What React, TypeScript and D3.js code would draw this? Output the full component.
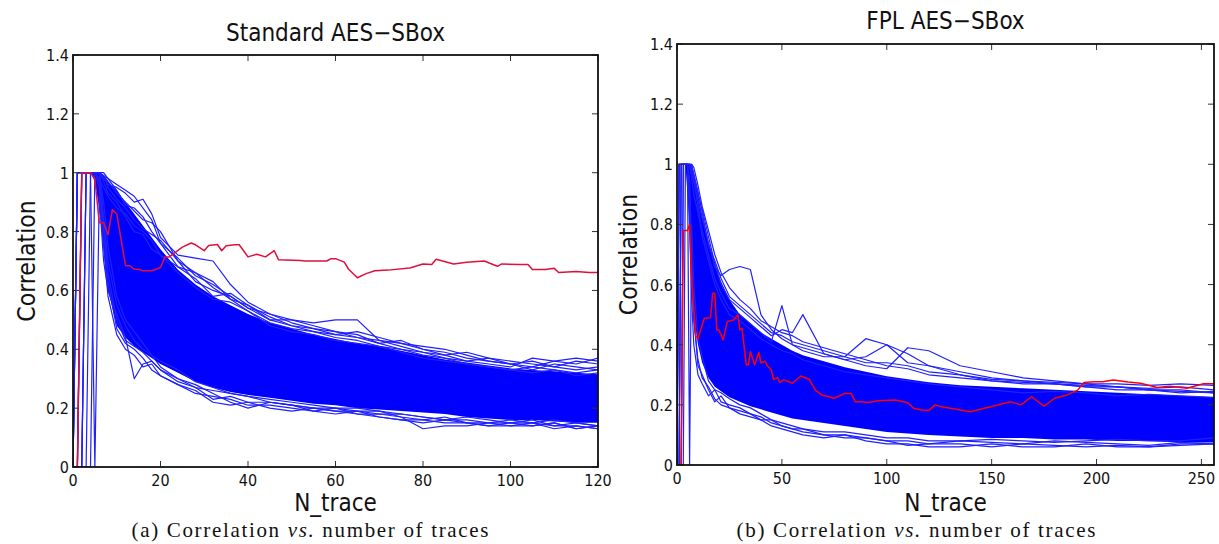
import React from 'react';
import * as d3 from 'd3';

// ---------------- Panel (a): Standard AES-SBox ----------------
const xTicksA = [0, 20, 40, 60, 80, 100, 120];
const yTicks = [0, 0.2, 0.4, 0.6, 0.8, 1, 1.2, 1.4];
const yTickLabels = ['0', '0.2', '0.4', '0.6', '0.8', '1', '1.2', '1.4'];

const xsA = [0, 1, 2, 3, 4, 5, 6, 7, 8, 10, 12, 14, 16, 18, 20, 24, 28, 32, 36, 40, 45, 50, 55, 60, 65, 70, 75, 80, 85, 90, 95, 100, 105, 110, 115, 120];
const blueA1 = [0, 1, 1, 1, 1, 1, 1, 0.98, 0.96, 0.95, 0.93, 0.90, 0.91, 0.86, 0.78, 0.72, 0.71, 0.70, 0.62, 0.56, 0.52, 0.50, 0.49, 0.50, 0.50, 0.43, 0.41, 0.39, 0.38, 0.36, 0.35, 0.34, 0.37, 0.36, 0.37, 0.36];
const blueA2 = [0, 0, 1, 1, 1, 1, 1, 0.99, 0.97, 0.93, 0.90, 0.87, 0.84, 0.83, 0.80, 0.70, 0.63, 0.60, 0.58, 0.54, 0.52, 0.49, 0.47, 0.45, 0.46, 0.44, 0.42, 0.40, 0.39, 0.37, 0.36, 0.35, 0.33, 0.35, 0.34, 0.33];
const blueA3 = [0, 0, 0, 1, 1, 1, 0.98, 0.95, 0.92, 0.88, 0.86, 0.82, 0.80, 0.77, 0.72, 0.68, 0.64, 0.58, 0.59, 0.55, 0.50, 0.48, 0.46, 0.44, 0.43, 0.41, 0.40, 0.38, 0.37, 0.35, 0.34, 0.33, 0.34, 0.36, 0.35, 0.37];
const blueA4 = [0, 0, 0, 0, 1, 1, 1, 0.97, 0.93, 0.90, 0.85, 0.80, 0.79, 0.74, 0.72, 0.66, 0.61, 0.57, 0.56, 0.53, 0.48, 0.46, 0.45, 0.43, 0.42, 0.41, 0.39, 0.37, 0.36, 0.35, 0.34, 0.33, 0.32, 0.33, 0.31, 0.32];
const blueA5 = [0, 1, 1, 1, 1, 0, 0.92, 0.70, 0.60, 0.52, 0.44, 0.30, 0.35, 0.36, 0.33, 0.29, 0.27, 0.26, 0.25, 0.24, 0.23, 0.22, 0.21, 0.20, 0.20, 0.19, 0.18, 0.17, 0.16, 0.17, 0.16, 0.15, 0.15, 0.16, 0.15, 0.14];
const blueA6 = [0, 0, 1, 1, 1, 1, 0.97, 0.80, 0.63, 0.47, 0.42, 0.40, 0.37, 0.33, 0.31, 0.28, 0.26, 0.22, 0.21, 0.22, 0.20, 0.19, 0.20, 0.19, 0.18, 0.18, 0.17, 0.13, 0.14, 0.14, 0.15, 0.16, 0.15, 0.14, 0.14, 0.13];
const blueA7 = [0, 1, 1, 1, 1, 1, 1, 0.85, 0.70, 0.55, 0.48, 0.43, 0.40, 0.38, 0.34, 0.30, 0.28, 0.25, 0.22, 0.20, 0.22, 0.21, 0.19, 0.20, 0.18, 0.17, 0.16, 0.15, 0.16, 0.15, 0.14, 0.15, 0.14, 0.15, 0.13, 0.14];
const blueA8 = [0, 0, 0, 1, 1, 1, 1, 0.90, 0.75, 0.58, 0.50, 0.46, 0.42, 0.38, 0.36, 0.33, 0.29, 0.27, 0.25, 0.24, 0.22, 0.21, 0.20, 0.19, 0.19, 0.18, 0.18, 0.17, 0.16, 0.16, 0.15, 0.15, 0.16, 0.14, 0.15, 0.14];
const blueA9 = [0, 0, 1, 1, 1, 1, 1, 1, 0.98, 0.96, 0.94, 0.92, 0.88, 0.84, 0.76, 0.68, 0.66, 0.61, 0.57, 0.55, 0.51, 0.48, 0.47, 0.46, 0.44, 0.43, 0.42, 0.41, 0.40, 0.38, 0.36, 0.35, 0.36, 0.34, 0.33, 0.34];
const blueA10 = [0, 1, 1, 1, 1, 1, 1, 0.99, 0.98, 0.94, 0.89, 0.88, 0.85, 0.80, 0.76, 0.71, 0.65, 0.62, 0.58, 0.54, 0.50, 0.50, 0.48, 0.46, 0.45, 0.42, 0.43, 0.40, 0.38, 0.39, 0.37, 0.36, 0.35, 0.34, 0.36, 0.35];
const blueA11 = [0, 0, 0, 0, 0, 1, 1, 0.99, 0.95, 0.91, 0.88, 0.84, 0.81, 0.79, 0.77, 0.70, 0.66, 0.63, 0.57, 0.53, 0.49, 0.47, 0.46, 0.45, 0.44, 0.42, 0.40, 0.39, 0.37, 0.36, 0.37, 0.35, 0.34, 0.33, 0.32, 0.33];
const blueA12 = [0, 1, 1, 1, 1, 1, 0.95, 0.75, 0.58, 0.45, 0.40, 0.38, 0.34, 0.35, 0.31, 0.28, 0.25, 0.24, 0.23, 0.21, 0.21, 0.20, 0.19, 0.18, 0.19, 0.17, 0.16, 0.16, 0.15, 0.15, 0.14, 0.14, 0.15, 0.13, 0.14, 0.13];
const blueA13 = [0, 0, 0, 1, 1, 1, 1, 0.83, 0.66, 0.50, 0.43, 0.41, 0.39, 0.36, 0.33, 0.30, 0.27, 0.23, 0.24, 0.22, 0.22, 0.21, 0.20, 0.20, 0.19, 0.19, 0.17, 0.16, 0.17, 0.15, 0.15, 0.14, 0.14, 0.15, 0.13, 0.14];

const coreXsA = [4, 5, 6, 7, 8, 10, 12, 14, 16, 18, 20, 24, 28, 32, 36, 40, 45, 50, 55, 60, 65, 70, 75, 80, 85, 90, 95, 100, 105, 110, 115, 120];
const coreTopA = [1, 1, 1, 0.99, 0.97, 0.94, 0.90, 0.86, 0.82, 0.78, 0.74, 0.67, 0.62, 0.58, 0.55, 0.52, 0.49, 0.47, 0.45, 0.435, 0.42, 0.41, 0.395, 0.38, 0.365, 0.355, 0.345, 0.335, 0.33, 0.325, 0.32, 0.315];
const coreBotA = [1, 0.97, 0.88, 0.74, 0.6, 0.48, 0.44, 0.41, 0.39, 0.37, 0.35, 0.32, 0.29, 0.27, 0.255, 0.245, 0.235, 0.225, 0.215, 0.21, 0.2, 0.195, 0.19, 0.185, 0.18, 0.17, 0.165, 0.16, 0.16, 0.155, 0.15, 0.15];

const redA: [number, number][] = [
  [0, 0], [1, 0], [2, 1], [3, 1], [4, 1], [5, 0.98], [6, 0.83], [7, 0.83], [8, 0.79], [9, 0.875],
  [10, 0.86], [12, 0.684], [13, 0.684], [14, 0.672], [15, 0.672], [16, 0.667], [18, 0.667], [20, 0.678], [21, 0.714], [22, 0.714],
  [25, 0.747], [27, 0.761], [28, 0.755], [30, 0.735], [31, 0.753], [33, 0.756], [34, 0.735], [35, 0.752], [37, 0.755], [38, 0.755],
  [40, 0.714], [42, 0.723], [44, 0.714], [46, 0.735], [47, 0.704], [52, 0.702], [53, 0.70], [58, 0.70], [59, 0.708], [60, 0.708],
  [62, 0.696], [63, 0.672], [65, 0.643], [67, 0.657], [69, 0.667], [72, 0.669], [77, 0.676], [80, 0.69], [82, 0.688], [83, 0.706],
  [87, 0.69], [90, 0.696], [94, 0.70], [97, 0.682], [98, 0.69], [102, 0.688], [104, 0.688], [105, 0.671], [108, 0.671], [110, 0.675],
  [111, 0.661], [115, 0.664], [118, 0.661], [120, 0.661],
];

// ---------------- Panel (b): FPL AES-SBox ----------------
const xTicksB = [0, 50, 100, 150, 200, 250];

const xsB = [0, 1, 2, 3, 4, 5, 6, 7, 8, 10, 12, 15, 18, 21, 25, 30, 35, 40, 45, 50, 55, 60, 70, 80, 90, 100, 110, 120, 135, 150, 165, 180, 195, 210, 225, 240, 256];
const blueB1 = [0, 1, 1, 1, 1, 1, 1, 0.97, 0.94, 0.88, 0.82, 0.74, 0.66, 0.63, 0.65, 0.66, 0.65, 0.50, 0.45, 0.42, 0.40, 0.39, 0.37, 0.35, 0.36, 0.40, 0.34, 0.33, 0.31, 0.29, 0.28, 0.275, 0.27, 0.27, 0.265, 0.27, 0.265];
const blueB2 = [0, 0, 1, 1, 1, 1, 1, 0.98, 0.95, 0.86, 0.78, 0.70, 0.62, 0.57, 0.52, 0.50, 0.47, 0.44, 0.41, 0.53, 0.40, 0.38, 0.36, 0.36, 0.42, 0.40, 0.37, 0.33, 0.30, 0.28, 0.27, 0.27, 0.26, 0.25, 0.25, 0.24, 0.245];
const blueB3 = [0, 0, 0, 1, 1, 1, 1, 1, 0.96, 0.90, 0.85, 0.76, 0.67, 0.60, 0.55, 0.52, 0.49, 0.46, 0.43, 0.45, 0.44, 0.50, 0.37, 0.35, 0.33, 0.32, 0.39, 0.38, 0.33, 0.31, 0.29, 0.28, 0.27, 0.26, 0.25, 0.25, 0.24];
const blueB4 = [0, 1, 1, 1, 1, 1, 1, 0.95, 0.90, 0.84, 0.76, 0.68, 0.60, 0.55, 0.50, 0.48, 0.45, 0.42, 0.40, 0.38, 0.37, 0.35, 0.33, 0.31, 0.30, 0.29, 0.28, 0.27, 0.26, 0.25, 0.24, 0.245, 0.24, 0.23, 0.235, 0.23, 0.225];
const blueB5 = [0, 1, 1, 1, 1, 1, 0.8, 0.55, 0.40, 0.30, 0.27, 0.23, 0.25, 0.21, 0.20, 0.19, 0.17, 0.16, 0.14, 0.13, 0.12, 0.11, 0.10, 0.10, 0.08, 0.07, 0.07, 0.06, 0.06, 0.07, 0.06, 0.06, 0.07, 0.06, 0.06, 0.07, 0.07];
const blueB6 = [0, 0, 1, 1, 1, 1, 0.9, 0.65, 0.48, 0.35, 0.29, 0.26, 0.22, 0.20, 0.19, 0.17, 0.16, 0.15, 0.13, 0.12, 0.11, 0.10, 0.09, 0.10, 0.09, 0.08, 0.065, 0.07, 0.08, 0.075, 0.07, 0.08, 0.075, 0.07, 0.065, 0.075, 0.07];
const blueB7 = [0, 0, 0, 0, 1, 1, 0, 0.8, 0.6, 0.42, 0.36, 0.28, 0.25, 0.24, 0.22, 0.20, 0.19, 0.17, 0.15, 0.14, 0.13, 0.12, 0.11, 0.11, 0.10, 0.09, 0.09, 0.08, 0.08, 0.085, 0.08, 0.075, 0.08, 0.085, 0.08, 0.08, 0.09];
const blueB8 = [0, 0, 1, 1, 1, 1, 1, 1, 0.99, 0.93, 0.86, 0.78, 0.70, 0.64, 0.59, 0.55, 0.52, 0.48, 0.46, 0.44, 0.43, 0.41, 0.39, 0.37, 0.35, 0.33, 0.32, 0.30, 0.29, 0.28, 0.275, 0.27, 0.265, 0.26, 0.255, 0.26, 0.25];
const blueB9 = [0, 1, 1, 1, 1, 1, 1, 0.99, 0.97, 0.91, 0.84, 0.73, 0.68, 0.62, 0.56, 0.53, 0.50, 0.47, 0.44, 0.43, 0.41, 0.40, 0.38, 0.36, 0.34, 0.34, 0.33, 0.31, 0.30, 0.285, 0.28, 0.27, 0.26, 0.26, 0.25, 0.245, 0.24];
const blueB10 = [0, 0, 0, 1, 1, 1, 0.95, 0.7, 0.5, 0.33, 0.30, 0.25, 0.21, 0.23, 0.19, 0.18, 0.17, 0.15, 0.15, 0.13, 0.12, 0.12, 0.10, 0.09, 0.09, 0.08, 0.08, 0.07, 0.07, 0.06, 0.07, 0.065, 0.06, 0.065, 0.06, 0.065, 0.07];

const coreXsB = [3, 4, 5, 6, 7, 8, 10, 12, 15, 18, 21, 25, 30, 35, 40, 45, 50, 55, 60, 70, 80, 90, 100, 110, 120, 135, 150, 165, 180, 195, 210, 225, 240, 256];
const coreTopB = [1, 1, 1, 1, 1, 0.97, 0.90, 0.83, 0.74, 0.67, 0.61, 0.55, 0.50, 0.47, 0.44, 0.42, 0.40, 0.38, 0.365, 0.345, 0.325, 0.31, 0.295, 0.285, 0.275, 0.265, 0.26, 0.255, 0.25, 0.245, 0.24, 0.235, 0.23, 0.225];
const coreBotB = [1, 1, 0.9, 0.8, 0.62, 0.5, 0.40, 0.34, 0.29, 0.26, 0.245, 0.225, 0.21, 0.195, 0.185, 0.175, 0.165, 0.155, 0.15, 0.14, 0.13, 0.12, 0.11, 0.105, 0.10, 0.095, 0.09, 0.09, 0.085, 0.085, 0.08, 0.08, 0.075, 0.075];

const redB: [number, number][] = [
  [0, 0], [1, 0], [2, 0], [3, 0.78], [4, 0.78], [5, 0.78], [6, 0.80], [7, 0.62], [9, 0.427], [10, 0.42],
  [13, 0.488], [16, 0.49], [17, 0.571], [18, 0.571], [19, 0.449], [20, 0.449], [22, 0.416], [24, 0.477], [27, 0.482], [29, 0.499],
  [30, 0.449], [31, 0.455], [33, 0.333], [34, 0.333], [35, 0.377], [37, 0.333], [39, 0.375], [40, 0.34], [42, 0.345], [43, 0.33],
  [45, 0.316], [46, 0.285], [48, 0.29], [49, 0.275], [51, 0.283], [55, 0.272], [59, 0.296], [63, 0.285], [66, 0.249], [69, 0.233],
  [75, 0.222], [80, 0.238], [83, 0.238], [85, 0.21], [88, 0.21], [91, 0.208], [96, 0.214], [104, 0.216], [110, 0.207], [113, 0.188],
  [117, 0.183], [120, 0.181], [123, 0.2], [126, 0.194], [131, 0.188], [135, 0.183], [140, 0.177], [146, 0.188], [151, 0.196], [159, 0.21],
  [164, 0.2], [169, 0.227], [175, 0.196], [180, 0.222], [186, 0.233], [191, 0.249], [194, 0.274], [199, 0.277], [203, 0.277], [208, 0.283],
  [215, 0.276], [221, 0.272], [229, 0.258], [235, 0.262], [243, 0.255], [251, 0.27], [256, 0.27],
];

const SANS = "'DejaVu Sans Condensed', 'DejaVu Sans', sans-serif";
const SERIF = "'Liberation Serif', 'DejaVu Serif', serif";

type PanelProps = {
  id: string;
  left: number; right: number; top: number; bottom: number;
  xMax: number; xTicks: number[];
  xs: number[]; lines: number[][];
  coreXs: number[]; coreTop: number[]; coreBot: number[];
  red: [number, number][]; redColor: string;
  title: string; titleY: number;
  caption: string; captionX: number; captionLen: number; yLabelX: number;
};

function Panel(p: PanelProps) {
  const x = d3.scaleLinear().domain([0, p.xMax]).range([p.left, p.right]);
  const y = d3.scaleLinear().domain([0, 1.4]).range([p.bottom, p.top]);
  const line = d3.line<number>().x((_, i) => x(p.xs[i])).y((d) => y(d));
  const area = d3.area<number>()
    .x((_, i) => x(p.coreXs[i]))
    .y0((_, i) => y(p.coreBot[i]))
    .y1((d) => y(d));
  const redLine = d3.line<[number, number]>().x((d) => x(d[0])).y((d) => y(d[1]));
  const cx = (p.left + p.right) / 2;
  const cy = (p.top + p.bottom) / 2;
  const tl = 6;
  return (
    <g>
      <defs>
        <clipPath id={p.id}>
          <rect x={p.left} y={p.top - 1} width={p.right - p.left} height={p.bottom - p.top + 1} />
        </clipPath>
      </defs>
      <g clipPath={`url(#${p.id})`}>
        <path d={area(p.coreTop) || ''} fill="#0000ff" />
        {p.lines.map((ln, i) => (
          <path key={i} d={line(ln) || ''} fill="none" stroke="#2020ff" strokeWidth={1.2} strokeLinejoin="round" />
        ))}
        <path d={redLine(p.red) || ''} fill="none" stroke={p.redColor} strokeWidth={1.5} strokeLinejoin="round" />
      </g>
      {p.xTicks.map((t) => (
        <g key={'x' + t}>
          <line x1={x(t)} x2={x(t)} y1={p.bottom} y2={p.bottom - tl} stroke="#333" strokeWidth={1} />
          <line x1={x(t)} x2={x(t)} y1={p.top} y2={p.top + tl} stroke="#333" strokeWidth={1} />
          <text x={x(t)} y={p.bottom + 19} fontSize={16} fontFamily={SANS} textAnchor="middle" fill="#111">{t}</text>
        </g>
      ))}
      {yTicks.map((t, i) => (
        <g key={'y' + t}>
          <line x1={p.left} x2={p.left + tl} y1={y(t)} y2={y(t)} stroke="#333" strokeWidth={1} />
          <line x1={p.right} x2={p.right - tl} y1={y(t)} y2={y(t)} stroke="#333" strokeWidth={1} />
          <text x={p.left - 4} y={y(t) + 6} fontSize={16} fontFamily={SANS} textAnchor="end" fill="#111">{yTickLabels[i]}</text>
        </g>
      ))}
      <rect x={p.left} y={p.top} width={p.right - p.left} height={p.bottom - p.top} fill="none" stroke="#111" strokeWidth={1.8} />
      <text x={cx} y={p.titleY} fontSize={24} fontFamily={SANS} textAnchor="middle" fill="#111">{p.title}</text>
      <text x={cx} y={511} fontSize={24} fontFamily={SANS} textAnchor="middle" fill="#111">N_trace</text>
      <text transform={`translate(${p.yLabelX},${cy}) rotate(-90)`} fontSize={24.5} fontFamily={SANS} textAnchor="middle" fill="#111">Correlation</text>
      <text x={p.captionX} y={537} fontSize={21} fontFamily={SERIF} textAnchor="middle" fill="#111"
        textLength={p.captionLen} lengthAdjust="spacing">
        {p.caption} Correlation <tspan fontStyle="italic">vs.</tspan>{'  '}number of traces
      </text>
    </g>
  );
}

export default function App() {
  return (
    <svg width={1219} height={544} style={{ position: 'absolute', left: 0, top: 0, background: '#fff' }}>
      <rect width={1219} height={544} fill="#fff" />
      <Panel
        id="clipA"
        left={73} right={598} top={55} bottom={467}
        xMax={120} xTicks={xTicksA}
        xs={xsA} lines={[blueA1, blueA2, blueA3, blueA4, blueA5, blueA6, blueA7, blueA8, blueA9, blueA10, blueA11, blueA12, blueA13]}
        coreXs={coreXsA} coreTop={coreTopA} coreBot={coreBotA}
        red={redA} redColor="#e0103c"
        title="Standard AES−SBox" titleY={41}
        caption="(a)" captionX={310} captionLen={357} yLabelX={35}
      />
      <Panel
        id="clipB"
        left={677} right={1214} top={44} bottom={465}
        xMax={256} xTicks={xTicksB}
        xs={xsB} lines={[blueB1, blueB2, blueB3, blueB4, blueB5, blueB6, blueB7, blueB8, blueB9, blueB10]}
        coreXs={coreXsB} coreTop={coreTopB} coreBot={coreBotB}
        red={redB} redColor="#ff0000"
        title="FPL AES−SBox" titleY={29}
        caption="(b)" captionX={916} captionLen={359} yLabelX={637}
      />
    </svg>
  );
}
